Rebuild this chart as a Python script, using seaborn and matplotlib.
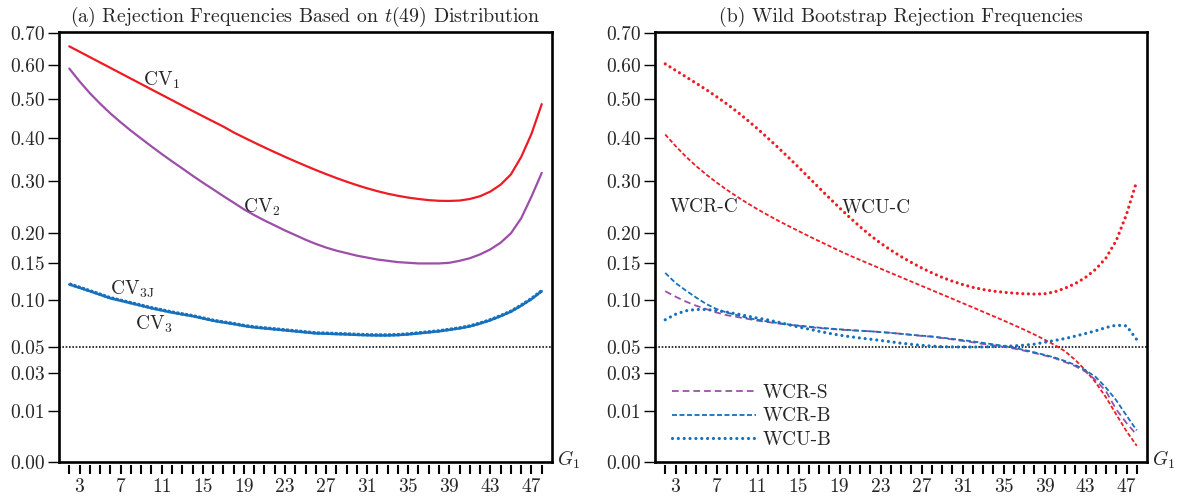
import numpy as np
import matplotlib
matplotlib.use("Agg")
import matplotlib.pyplot as plt
import seaborn as sns

# ---------------- data ----------------
g1 = list(range(2, 49))
xtick_labels = list(range(3, 48, 4))
yticks = [0.00, 0.01, 0.03, 0.05, 0.10, 0.15, 0.20, 0.30, 0.40, 0.50, 0.60, 0.70]
nominal = 0.05

# panel (a): t(49) critical values
cv1 = [0.6574, 0.6405, 0.6238, 0.6073, 0.5911, 0.5750, 0.5592, 0.5436, 0.5282, 0.5131,
       0.4982, 0.4834, 0.4691, 0.4551, 0.4414, 0.4281, 0.4134, 0.4007, 0.3884, 0.3766,
       0.3653, 0.3544, 0.3440, 0.3340, 0.3244, 0.3154, 0.3069, 0.2990, 0.2917, 0.2850,
       0.2791, 0.2739, 0.2696, 0.2660, 0.2632, 0.2609, 0.2596, 0.2593, 0.2601, 0.2632,
       0.2688, 0.2783, 0.2927, 0.3147, 0.3540, 0.4096, 0.4872]
cv2 = [0.589, 0.5513, 0.5177, 0.4886, 0.4624, 0.4392, 0.4177, 0.398, 0.379, 0.361,
       0.344, 0.328, 0.312, 0.297, 0.283, 0.269, 0.256, 0.243, 0.232, 0.222,
       0.213, 0.204, 0.196, 0.188, 0.181, 0.175, 0.170, 0.166, 0.162, 0.159,
       0.156, 0.154, 0.152, 0.151, 0.150, 0.150, 0.150, 0.151, 0.154, 0.158,
       0.164, 0.172, 0.183, 0.199, 0.226, 0.268, 0.318]
cv3 = [0.1200, 0.1155, 0.1110, 0.1065, 0.1020, 0.0990, 0.0960, 0.0930, 0.0900, 0.0875,
       0.0850, 0.0830, 0.0810, 0.0785, 0.0760, 0.0742, 0.0725, 0.0705, 0.0690, 0.0680,
       0.0670, 0.0660, 0.0650, 0.0640, 0.0630, 0.0627, 0.0623, 0.0620, 0.0615, 0.0612,
       0.0610, 0.0610, 0.0613, 0.0620, 0.0630, 0.0640, 0.0650, 0.0665, 0.0680, 0.0700,
       0.0730, 0.0765, 0.0810, 0.0860, 0.0930, 0.1010, 0.1110]
cv3j = [0.1206, 0.1161, 0.1116, 0.1071, 0.1026, 0.0995, 0.0965, 0.0935, 0.0905, 0.0880,
        0.0855, 0.0834, 0.0814, 0.0789, 0.0764, 0.0746, 0.0729, 0.0709, 0.0694, 0.0684,
        0.0674, 0.0664, 0.0654, 0.0644, 0.0634, 0.0631, 0.0627, 0.0624, 0.0619, 0.0616,
        0.0614, 0.0614, 0.0617, 0.0624, 0.0634, 0.0644, 0.0654, 0.0669, 0.0684, 0.0704,
        0.0734, 0.0769, 0.0814, 0.0865, 0.0935, 0.1015, 0.1116]

# panel (b): wild bootstrap
wcu_c = [0.6030, 0.5837, 0.5648, 0.5461, 0.5274, 0.5079, 0.4879, 0.4669, 0.4450, 0.4225,
         0.3994, 0.3764, 0.3534, 0.3306, 0.3080, 0.2862, 0.2654, 0.2458, 0.2275, 0.2107,
         0.1955, 0.1823, 0.1708, 0.1606, 0.1516, 0.1434, 0.1362, 0.1298, 0.1244, 0.1199,
         0.1161, 0.1132, 0.1111, 0.1096, 0.1085, 0.1077, 0.1073, 0.1076, 0.1102, 0.1149,
         0.1211, 0.1296, 0.1414, 0.1584, 0.1866, 0.2333, 0.3000]
wcr_c = [0.4080, 0.3801, 0.3552, 0.3335, 0.3144, 0.2974, 0.2820, 0.2679, 0.2550, 0.2431,
         0.2321, 0.2218, 0.2122, 0.2030, 0.1941, 0.1857, 0.1776, 0.1697, 0.1622, 0.1554,
         0.1488, 0.1423, 0.1360, 0.1299, 0.1239, 0.1181, 0.1124, 0.1068, 0.1014, 0.0961,
         0.0910, 0.0859, 0.0810, 0.0762, 0.0714, 0.0667, 0.0619, 0.0570, 0.0520, 0.0467,
         0.0396, 0.0320, 0.0240, 0.0159, 0.0086, 0.0036, 0.0010]
wcr_s = [0.111, 0.104, 0.098, 0.093, 0.089, 0.085, 0.082, 0.080, 0.078, 0.076,
         0.0745, 0.073, 0.0718, 0.0705, 0.0693, 0.0683, 0.0675, 0.0667, 0.066, 0.0655,
         0.065, 0.0643, 0.0635, 0.0625, 0.0615, 0.0605, 0.0597, 0.0585, 0.0572, 0.0558,
         0.0545, 0.053, 0.0518, 0.0505, 0.049, 0.0472, 0.0452, 0.0432, 0.041, 0.038,
         0.035, 0.031, 0.0255, 0.019, 0.0105, 0.0058, 0.0028]
wcr_b = [0.136, 0.122, 0.112, 0.103, 0.095, 0.089, 0.085, 0.082, 0.079, 0.077,
         0.075, 0.0735, 0.072, 0.0708, 0.0697, 0.0687, 0.0678, 0.067, 0.0663, 0.0656,
         0.065, 0.0642, 0.0634, 0.0625, 0.0616, 0.0607, 0.060, 0.0588, 0.0577, 0.0565,
         0.0553, 0.054, 0.0527, 0.0513, 0.0497, 0.0478, 0.0458, 0.0437, 0.0415, 0.0388,
         0.0358, 0.032, 0.0275, 0.021, 0.0145, 0.0082, 0.0038]
wcu_b = [0.077, 0.083, 0.087, 0.0885, 0.0885, 0.0872, 0.0855, 0.0835, 0.081, 0.0788,
         0.0768, 0.0745, 0.0718, 0.0693, 0.0672, 0.065, 0.063, 0.0612, 0.0598, 0.0585,
         0.0574, 0.0562, 0.055, 0.0537, 0.0527, 0.0518, 0.0511, 0.0506, 0.0504, 0.0503,
         0.0503, 0.0504, 0.0506, 0.0509, 0.0513, 0.0519, 0.0528, 0.0545, 0.0562, 0.058,
         0.0603, 0.0628, 0.0655, 0.0688, 0.0712, 0.0705, 0.057]

RED = "#ed1c24"
PURPLE = "#9c4fa8"
BLUE = "#1570be"

# ---------------- style ----------------
sns.set_theme(style="ticks")
plt.rcParams["font.family"] = ["cmr10", "DejaVu Serif"]
plt.rcParams["mathtext.fontset"] = "cm"
plt.rcParams["axes.unicode_minus"] = False
plt.rcParams["axes.formatter.use_mathtext"] = True
plt.rcParams["lines.scale_dashes"] = False
plt.rcParams["axes.edgecolor"] = "black"

FS = 14

fig = plt.figure(figsize=(11.83, 4.98), dpi=100)
ax_a = fig.add_axes([59 / 1183, 36 / 498, 493 / 1183, 430 / 498])
ax_b = fig.add_axes([655 / 1183, 36 / 498, 492 / 1183, 430 / 498])


def style_axis(ax, title):
    ax.set_yscale("function", functions=(lambda v: np.sqrt(np.clip(v, 0, None)), np.square))
    ax.set_xlim(1, 49)
    ax.set_ylim(0, 0.7035)
    ax.set_yticks(yticks)
    ax.set_yticklabels([f"{t:.2f}" for t in yticks])
    ax.tick_params(axis="y", direction="out", length=8, width=1, pad=2,
                   labelsize=FS, color="black")
    # x ticks hang a little below the frame, so draw them on a shifted axis
    ax.tick_params(axis="x", length=0, labelbottom=False)
    sec = ax.secondary_xaxis(-0.008)
    sec.set_xticks(g1)
    sec.set_xticklabels([str(g) if g in xtick_labels else "" for g in g1])
    sec.spines["bottom"].set_visible(False)
    sec.tick_params(axis="x", direction="out", length=6.5, width=1.5, pad=2.5,
                    labelsize=FS, color="black")
    for s in ax.spines.values():
        s.set_visible(True)
        s.set_linewidth(1.9)
        s.set_color("black")
    ax.axhline(nominal, color="black", lw=1.1, ls=(0, (1.2, 1.2)), zorder=1)
    ax.set_title(title, fontsize=14.3, pad=7)
    ax.text(1.01, 0.005, "$G_1$", transform=ax.transAxes, ha="left", va="center", fontsize=FS)
    ax.set_xlabel("")
    ax.set_ylabel("")


# ---------------- panel (a) ----------------
sns.lineplot(x=g1, y=cv1, ax=ax_a, color=RED, lw=1.6)
sns.lineplot(x=g1, y=cv2, ax=ax_a, color=PURPLE, lw=1.6)
sns.lineplot(x=g1, y=cv3, ax=ax_a, color=BLUE, lw=1.8)
sns.lineplot(x=g1, y=cv3j, ax=ax_a, color=BLUE, lw=2.4, linestyle=(0, (2, 1.2)))
style_axis(ax_a, "(a) Rejection Frequencies Based on $t(49)$ Distribution")

ax_a.text(9.2, 0.538, "CV$_1$", fontsize=FS, ha="left", va="baseline")
ax_a.text(18.9, 0.236, "CV$_2$", fontsize=FS, ha="left", va="baseline")
ax_a.text(6.0, 0.106, "CV$_{3\\mathrm{J}}$", fontsize=FS, ha="left", va="baseline")
ax_a.text(8.4, 0.067, "CV$_3$", fontsize=FS, ha="left", va="baseline")

# ---------------- panel (b) ----------------
sns.lineplot(x=g1, y=wcu_c, ax=ax_b, color=RED, lw=2.3, linestyle=(0, (0.01, 4.0)))
l_wcuc = ax_b.lines[-1]
sns.lineplot(x=g1, y=wcr_c, ax=ax_b, color=RED, lw=1.3, linestyle=(0, (3, 1.6)))
sns.lineplot(x=g1, y=wcr_s, ax=ax_b, color=PURPLE, lw=1.3, linestyle=(0, (4.8, 2.9)))
l_wcrs = ax_b.lines[-1]
sns.lineplot(x=g1, y=wcr_b, ax=ax_b, color=BLUE, lw=1.3, linestyle=(0, (3.6, 1.8)))
l_wcrb = ax_b.lines[-1]
sns.lineplot(x=g1, y=wcu_b, ax=ax_b, color=BLUE, lw=2.3, linestyle=(0, (0.01, 4.2)))
l_wcub = ax_b.lines[-1]
for ln in (l_wcuc, l_wcub):
    ln.set_dash_capstyle("round")
style_axis(ax_b, "(b) Wild Bootstrap Rejection Frequencies")

ax_b.text(2.4, 0.238, "WCR-C", fontsize=FS, ha="left", va="baseline")
ax_b.text(19.2, 0.236, "WCU-C", fontsize=FS, ha="left", va="baseline")

ax_b.legend(handles=[l_wcrs, l_wcrb, l_wcub], labels=["WCR-S", "WCR-B", "WCU-B"],
            loc="lower left", bbox_to_anchor=(0.035, 0.03), frameon=False,
            fontsize=FS, handlelength=4.3, handletextpad=0.35, labelspacing=0.3,
            borderaxespad=0, borderpad=0)

fig.savefig("out.png", dpi=100)
